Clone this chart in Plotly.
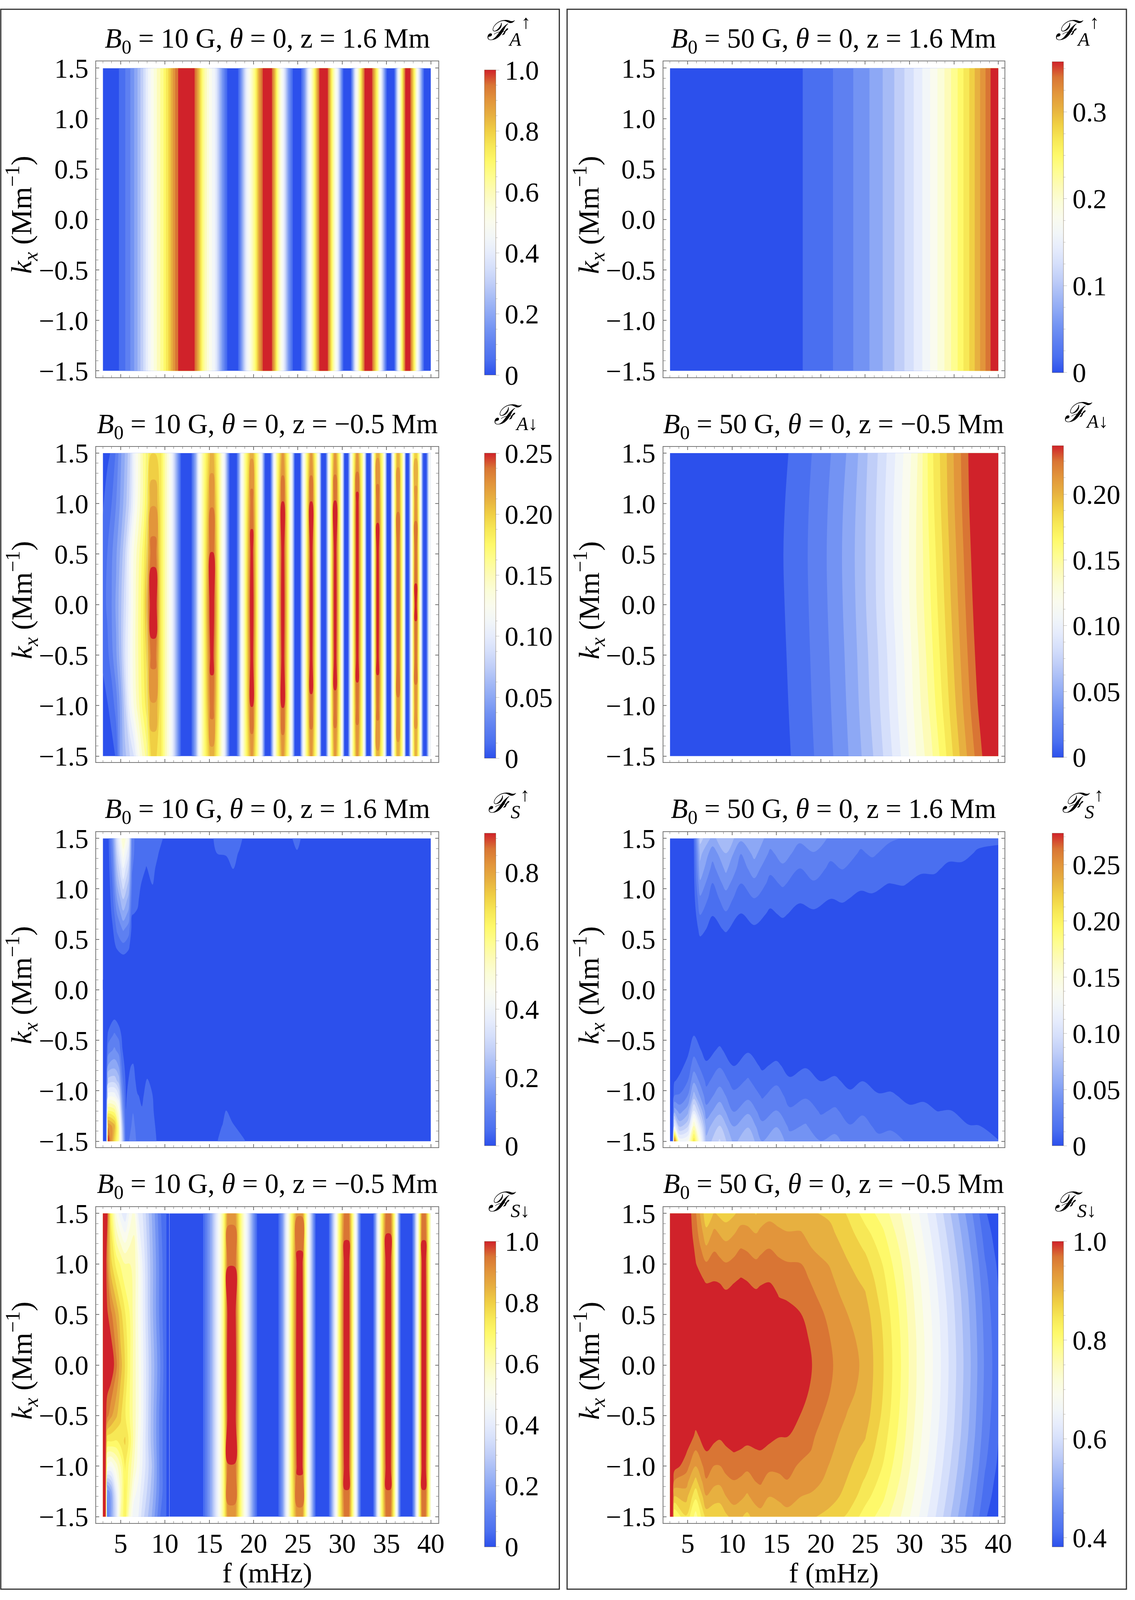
import numpy as np
import plotly.graph_objects as go

W, H = 2905, 4409

# ---------- panel A-up, B0 = 10 G (no kx dependence) ----------
A10U_F = [3,4.7,5.6,6.3,7,7.6,8.2,9,9.8,10.5,11,11.45,12.4,13.4,13.9,14.3,15,15.7,16.4,17,17.6,18.3,18.8,19.2,19.7,20.2,20.6,21,21.55,22.1,22.4,22.7,23.4,23.9,24.4,24.9,25.4,25.8,26.2,26.8,27.4,27.9,28.4,28.9,29.5,30.1,30.55,31,31.5,32,32.5,32.95,33.4,34,34.4,35,35.45,35.9,36.3,36.7,37.1,37.4,37.7,38.2,38.6,39.2,39.6,40]
A10U_V = [0,.04,.1,.16,.25,.34,.45,.56,.66,.78,.88,.95,1,.95,.8,.65,.52,.42,.2,.05,0,.05,.25,.42,.55,.68,.85,.95,1,.95,.82,.66,.42,.2,.05,0,.05,.2,.42,.66,.95,1,.95,.66,.42,.05,0,.05,.42,.66,.95,1,.95,.66,.42,.05,0,.05,.42,.66,.95,1,.95,.66,.42,.05,0,.02]

# ---------- panel A-up, B0 = 50 G (no kx dependence, thousandths) ----------
A50U_F = [3,17.96,21.37,23.65,25.48,26.97,28.28,29.42,30.47,31.43,32.31,33.14,33.93,34.67,35.42,36.07,36.73,37.34,37.95,38.56,39.13,40]
A50U_V = [0,17.05,34.1,51.1,68.2,85.2,102.3,119.3,136.4,153.4,170.5,187.5,204.6,221.6,238.7,255.7,272.8,289.8,306.9,323.9,341,367]

# ---------- panel A-down, B0 = 10 G ----------
KX7 = [1.5,1,.5,0,-.5,-1,-1.5]
A10D_LF = [3,3.5,4,4.5,5,5.5,6,6.5,7,7.5,8]
A10D_L = [
 [.008,.011,.015,.018,.014,.008,.004],
 [.01,.016,.024,.026,.02,.011,.006],
 [.013,.024,.034,.036,.032,.016,.008],
 [.026,.036,.046,.05,.046,.03,.013],
 [.045,.05,.062,.068,.066,.052,.052],
 [.06,.066,.082,.09,.094,.08,.068],
 [.078,.085,.11,.112,.115,.11,.082],
 [.112,.113,.133,.135,.137,.132,.095],
 [.132,.135,.15,.155,.155,.15,.122],
 [.155,.155,.17,.175,.175,.17,.145],
 [.172,.18,.195,.21,.195,.185,.162]]
A10D_PEAKS = [
 [.190,.213,.233,.252,.231,.213,.192],
 [.207,.225,.239,.252,.242,.232,.210],
 [.212,.232,.244,.252,.246,.239,.216],
 [.215,.240,.247,.252,.247,.240,.216],
 [.215,.240,.246,.250,.245,.236,.215],
 [.215,.241,.246,.249,.245,.235,.215],
 [.215,.245,.247,.248,.244,.233,.215],
 [.212,.235,.243,.246,.242,.232,.212],
 [.210,.225,.232,.236,.232,.225,.210],
 [.200,.222,.234,.241,.232,.222,.205]]
A10D_RF = [8.45,8.95,9.5,10,10.8,11.2,11.8,13,13.5,13.8,14.3,15.15,15.45,16.2,16.7,17,17.3,18.1,18.4,18.6,19,19.7,19.9,20.5,20.9,21.1,21.3,21.9,22.1,22.3,22.6,23.2,23.4,24,24.3,24.5,24.65,25.25,25.4,25.6,25.9,26.4,26.6,27.1,27.4,27.55,27.65,28.15,28.3,28.45,28.7,29.1,29.3,29.8,30,30.15,30.25,30.65,30.8,30.95,31.2,31.6,31.8,32.3,32.5,32.65,32.75,33.15,33.3,33.4,33.6,33.9,34.1,34.6,34.8,34.95,35.05,35.45,35.55,35.7,35.9,36.2,36.4,36.8,37,37.1,37.2,37.5,37.65,37.75,37.95,38.2,38.4,38.7,38.9,39,39.15,39.5,39.65,39.8,40]
A10D_RV = [-1,-1,.185,.155,.11,.07,.011,.011,.06,.11,.155,-2,-2,.155,.11,.06,.011,.011,.06,.11,.155,-3,-3,.155,.11,.06,.011,.011,.06,.11,.155,-4,-4,.155,.11,.06,.011,.011,.06,.11,.155,-5,-5,.155,.11,.06,.011,.011,.06,.11,.155,-6,-6,.155,.11,.06,.011,.011,.06,.11,.155,-7,-7,.155,.11,.06,.011,.011,.06,.11,.155,-8,-8,.155,.11,.06,.011,.011,.06,.11,.155,-9,-9,.155,.11,.06,.011,.011,.06,.11,.155,-10,-10,.155,.11,.06,.011,.011,.06,.11,.12]

# ---------- panel A-down, B0 = 50 G (thousandths) ----------
A50D_F = [3,15.8,18.53,20.67,22.38,23.82,25.09,26.23,27.23,28.2,29.12,29.99,30.78,31.61,32.4,33.14,33.93,34.67,35.46,36.29,37.12,38,39,40]
A50D = [
 [0,0,0,0,0,0,0],
 [9,10.6,11.3,10.8,9.9,9,7.9],
 [20.3,21.9,22.6,22.1,21.2,20.3,19.1],
 [30.9,33,33.9,33.3,32.1,30.9,29.5],
 [41.5,44,45.1,44.4,42.9,41.5,39.7],
 [52.2,55.2,56.4,55.6,53.9,52.2,50.2],
 [65.9,67.7,68.2,67.7,65.4,63.6,60.3],
 [76.9,79,79.5,79,76.4,74.3,70.6],
 [88,90.3,90.9,90.3,87.4,85.1,81.1],
 [99.2,101.6,102.2,101.6,98.6,96.2,92],
 [110.4,112.9,113.5,112.9,109.7,107.2,102.7],
 [121.4,124.1,124.8,124.1,120.7,118,113.3],
 [132.6,135.4,136.1,135.4,131.9,129.1,124.2],
 [149.5,149.5,148.1,146.7,143.2,139.7,134.1],
 [165.3,163.8,160.9,158,154.4,150,143.5],
 [176.7,175.2,172.2,169.3,165.6,161.2,154.6],
 [187.9,186.5,183.5,180.6,176.9,172.5,165.9],
 [199.2,197.7,194.8,191.9,188.3,183.9,177.3],
 [210.1,208.7,205.9,203.1,199.6,195.4,189.1],
 [221.2,219.8,217.1,214.4,211,206.9,200.8],
 [232.7,231.3,228.5,225.7,222.2,218,211.7],
 [245.5,244,241,238,234.3,229.8,223],
 [259.5,258,255,252,248.3,243.8,237],
 [273.5,272,269,266,262.3,257.8,251]]

# ---------- panel S-up, B0 = 10 G (thousandths) ----------
KX_TOP = [1.5,1.35,1.2,1.05,.9,.75,.6,.45,.3,0]
KX_BOT = [.1,-.3,-.45,-.6,-.75,-.9,-1.05,-1.2,-1.35,-1.5]
S10U_TF = [3,3.6,4.1,4.6,5.3,5.9,6.3,6.9,7.9,8.6,9.2,9.7,10.3,15,15.5,15.9,16.9,17.7,18.4,18.7,19.2,24,24.4,24.9,25.3,25.8,40]
S10U_T = [
 [0,0,0,0,0,0,0,0,0,0],
 [30,25,20,15,10,5,0,0,0,0],
 [150,130,110,90,75,58,38,22,0,0],
 [340,300,260,220,175,130,95,60,10,0],
 [530,458,390,330,262,205,137,82,25,0],
 [420,360,300,250,205,160,110,60,15,0],
 [100,100,90,80,60,45,25,10,0,0],
 [70,65,62,57,50,40,15,0,0,0],
 [60,52,42,25,10,0,0,0,0,0],
 [60,55,52,46,25,0,0,0,0,0],
 [52,46,35,15,0,0,0,0,0,0],
 [46,30,15,0,0,0,0,0,0,0],
 [25,10,0,0,0,0,0,0,0,0],
 [0,0,0,0,0,0,0,0,0,0],
 [46,10,0,0,0,0,0,0,0,0],
 [60,44,5,0,0,0,0,0,0,0],
 [65,47,25,0,0,0,0,0,0,0],
 [65,55,44,20,0,0,0,0,0,0],
 [55,40,15,0,0,0,0,0,0,0],
 [46,25,0,0,0,0,0,0,0,0],
 [10,0,0,0,0,0,0,0,0,0],
 [0,0,0,0,0,0,0,0,0,0],
 [46,20,0,0,0,0,0,0,0,0],
 [55,40,5,0,0,0,0,0,0,0],
 [46,20,0,0,0,0,0,0,0,0],
 [0,0,0,0,0,0,0,0,0,0],
 [0,0,0,0,0,0,0,0,0,0]]
S10U_BF = [3,3.35,3.6,4.3,4.8,5.2,5.6,6.4,6.9,7.4,8,8.6,9,9.5,10,15.5,16,16.5,16.9,17.6,19,19.5,20,40]
S10U_B = [
 [0,0,0,0,0,0,0,0,0,0],
 [0,0,0,0,0,0,0,0,0,0],
 [0,0,60,110,180,280,420,620,820,910],
 [0,46,95,140,200,290,420,590,760,700],
 [0,25,75,115,170,240,350,480,560,560],
 [0,0,30,46,70,100,140,190,260,300],
 [0,0,0,15,25,35,40,44,46,55],
 [0,0,0,0,50,60,70,85,100,130],
 [0,0,0,0,15,30,46,55,70,70],
 [0,0,0,0,0,15,38,46,60,65],
 [0,0,0,0,0,50,55,58,65,70],
 [0,0,0,0,0,25,45,50,55,58],
 [0,0,0,0,0,0,20,30,40,46],
 [0,0,0,0,0,0,0,8,14,20],
 [0,0,0,0,0,0,0,0,0,0],
 [0,0,0,0,0,0,0,0,0,20],
 [0,0,0,0,0,0,0,0,30,46],
 [0,0,0,0,0,0,0,20,46,55],
 [0,0,0,0,0,0,0,46,60,65],
 [0,0,0,0,0,0,0,25,50,60],
 [0,0,0,0,0,0,0,0,20,46],
 [0,0,0,0,0,0,0,0,0,20],
 [0,0,0,0,0,0,0,0,0,0],
 [0,0,0,0,0,0,0,0,0,0]]

# ---------- panel S-up, B0 = 50 G (thousandths) ----------
S50U_TF = [3,5.6,6.4,7.8,9.3,11,12.5,14.3,15.7,17.6,19.2,21.1,22.4,24.5,25.8,27.7,29.3,31.3,32.8,34.4,35.9,37.7,40]
S50U_T = [
 [0,0,0,0,0,0,0,0,0,0],
 [5,5,5,5,5,3,0,0,0,0],
 [85,70,62,50,37,27,18,8,0,0],
 [62,45,35,26,20,14,8,3,0,0],
 [78,66,56,45,33,25,15,6,0,0],
 [56,40,33,26,19,13,6,1,0,0],
 [64,57,46,36,26,19,11,2,0,0],
 [46,37,29,23,17,11,5,0,0,0],
 [52,45,37,28,21,15,8,1,0,0],
 [42,35,26,21,15,9,3,0,0,0],
 [46,39,32,25,18,11,4,0,0,0],
 [38,29,24,19,13,7,2,0,0,0],
 [40,33,27,21,15,8,2,0,0,0],
 [30,25,21,16,10,4,0,0,0,0],
 [33,28,22,17,11,5,0,0,0,0],
 [28,23,18,13,7,2,0,0,0,0],
 [26,22,18,14,8,2,0,0,0,0],
 [24,21,15,10,5,0,0,0,0,0],
 [23,20,15,10,4,0,0,0,0,0],
 [20,16,11,6,1,0,0,0,0,0],
 [19,16,11,5,0,0,0,0,0,0],
 [16,12,7,2,0,0,0,0,0,0],
 [15,11,6,0,0,0,0,0,0,0]]
S50U_BF = [3,3.3,3.5,4.1,5,5.7,7.1,8.6,10.2,11.8,13.4,15,16.5,18.3,20,21.6,23.3,24.7,26.5,27.9,30,31.6,33.2,34.6,36.7,37.7,40]
S50U_B = [
 [0,0,0,0,0,0,0,0,0,0],
 [0,0,0,0,0,0,0,0,0,0],
 [0,0,0,0,5,12,27,60,120,270],
 [0,0,0,0,8,17,28,48,75,130],
 [0,0,0,10,18,26,40,60,90,135],
 [0,0,13,22,33,50,72,110,160,210],
 [0,0,0,7,16,23,32,45,60,70],
 [0,0,6,16,25,35,47,62,80,95],
 [0,0,0,4,13,21,30,39,52,62],
 [0,0,2,12,20,28,36,50,65,78],
 [0,0,0,0,11,18,25,33,43,53],
 [0,0,0,7,16,24,32,40,52,66],
 [0,0,0,0,8,15,22,28,37,45],
 [0,0,0,0,12,19,25,33,41,50],
 [0,0,0,0,4,13,20,25,31,40],
 [0,0,0,0,7,16,22,28,35,44],
 [0,0,0,0,0,8,17,22,27,33],
 [0,0,0,0,0,13,20,25,30,36],
 [0,0,0,0,0,5,15,20,24,29],
 [0,0,0,0,0,6,16,21,25,30],
 [0,0,0,0,0,0,8,17,21,25],
 [0,0,0,0,0,0,10,18,22,25],
 [0,0,0,0,0,0,2,13,18,22],
 [0,0,0,0,0,0,3,14,19,22],
 [0,0,0,0,0,0,0,5,14,19],
 [0,0,0,0,0,0,0,6,14,18],
 [0,0,0,0,0,0,0,1,6,14]]

# ---------- panel S-down, B0 = 10 G ----------
KX9 = [1.5,1,.5,0,-.5,-.75,-1,-1.25,-1.5]
S10D_LF = [3,3.3,3.5,3.9,4.5,5,5.5,6,6.5,7,7.5,8.5,9.5,10.2,10.5]
S10D_L = [
 [1,1,1,1,1,1,1,1,1],
 [1,1,1,1,.97,.98,.97,.97,.97],
 [.97,.9,.96,1,.92,.72,.5,.15,.1],
 [.7,.78,.92,1,.87,.72,.48,.22,.2],
 [.52,.7,.85,.92,.82,.71,.55,.42,.38],
 [.44,.66,.78,.83,.77,.74,.62,.58,.62],
 [.39,.62,.72,.76,.72,.77,.72,.72,.72],
 [.48,.62,.67,.68,.67,.7,.65,.62,.55],
 [.55,.6,.6,.6,.6,.6,.57,.5,.44],
 [.42,.52,.52,.53,.53,.51,.5,.46,.43],
 [.38,.42,.43,.44,.44,.43,.42,.39,.35],
 [.24,.26,.26,.28,.27,.27,.29,.27,.24],
 [.1,.12,.12,.14,.12,.12,.12,.12,.09],
 [.045,.045,.045,.045,.045,.045,.045,.045,.045],
 [.03,.03,.03,.03,.03,.03,.03,.03,.03]]
S10D_PEAKS = [
 [.89,.95,.99,1.02,.995,.95,.89],
 [.90,.97,.99,1.0,.99,.965,.89],
 [.92,.98,1.0,1.0,1.0,.98,.92],
 [.93,.985,1.0,1.0,1.0,.98,.92],
 [.92,.98,1.0,1.0,1.0,.98,.92]]
S10D_RF = [10.5,14.3,15.2,15.9,16.6,17.1,17.9,18.6,19.3,19.9,20.4,22.8,23.3,23.7,24.2,24.9,25.5,25.9,26.3,26.7,27,28.5,28.8,29.2,29.6,30.25,30.75,31.2,31.6,31.85,32.1,33.5,33.75,34,34.4,34.95,35.45,35.9,36.2,36.4,36.6,37.9,38.15,38.4,38.7,39,39.4,39.8,40]
S10D_RV = [.03,.045,.22,.42,.65,-1,-1,.65,.42,.2,.045,.045,.2,.42,.65,-2,-2,.65,.42,.2,.045,.045,.2,.42,.65,-3,-3,.65,.42,.2,.045,.045,.2,.42,.65,-4,-4,.65,.42,.2,.045,.045,.2,.42,.65,-5,-5,.65,.55]

# ---------- panel S-down, B0 = 50 G (thousandths) ----------
KX17 = [1.5,1.3,1.15,1,.85,.7,.5,.25,0,-.25,-.5,-.7,-.85,-1,-1.15,-1.3,-1.5]
S50D_F = [3,3.3,3.5,4.8,5.9,7.1,8,8.6,9.3,10.2,11,11.7,12.7,13.2,14.2,15.3,16.2,17.7,19,21,23,25,27,29,31,33,35,37,38.5,40]
S50D = [
 [1000]*17,
 [1000]*17,
 [980,990,1000,1000,1000,1000,1000,1000,1000,1000,1000,1000,995,985,938,880,790],
 [1000,1000,1000,1000,1000,1000,1000,1000,1000,1000,1000,995,975,955,925,895,850],
 [945,955,965,972,980,990,1000,1000,1000,1000,985,965,940,912,872,830,780],
 [860,892,917,945,967,980,990,1000,1000,1000,995,985,972,955,938,910,865],
 [885,920,938,955,969,980,990,1000,1000,1000,992,980,960,940,920,895,860],
 [875,910,930,950,967,980,990,1000,1000,1000,990,975,958,940,918,893,860],
 [868,900,923,943,960,975,988,1000,1000,1000,992,980,966,950,933,911,876],
 [878,910,930,950,967,980,990,1000,1000,1000,992,983,972,955,940,925,893],
 [893,925,942,958,972,982,990,1000,1000,1000,992,982,969,952,936,918,885],
 [895,922,938,955,969,980,990,1000,1000,1000,992,980,965,948,928,907,875],
 [880,912,928,947,962,975,988,1000,1000,1000,992,982,969,955,942,925,895],
 [892,920,935,950,965,978,988,1000,1000,1000,992,983,970,957,945,928,900],
 [903,925,942,955,968,980,990,1000,1000,1000,990,980,962,948,930,912,885],
 [893,920,933,947,958,969,980,995,1000,995,980,972,958,947,935,918,893],
 [885,915,930,943,955,966,980,995,1000,995,982,972,958,950,940,925,900],
 [890,915,930,942,950,958,972,985,990,985,970,957,950,937,925,912,890],
 [885,900,912,925,938,945,955,965,971,965,955,945,940,930,920,908,885],
 [877,890,900,910,918,926,935,942,945,942,932,923,917,910,905,892,874],
 [850,865,875,885,892,900,912,920,925,920,910,900,893,888,880,874,848],
 [810,834,849,863,875,884,895,902,905,902,895,884,875,863,849,834,810],
 [780,799,811,822,831,838,847,853,855,853,847,838,831,822,811,799,780],
 [735,750,760,769,776,782,788,793,795,793,788,782,776,769,760,750,735],
 [678,690,698,706,712,717,722,727,728,727,722,717,712,706,698,690,678],
 [615,627,635,642,648,653,659,663,664,663,659,653,648,642,635,627,615],
 [545,558,566,574,580,586,591,595,597,595,591,586,580,574,566,558,545],
 [473,486,494,502,508,514,519,523,525,523,519,514,508,502,494,486,473],
 [415,427,435,443,449,454,459,463,465,463,459,454,449,443,435,427,415],
 [385,394,399,405,409,412,416,419,420,419,416,412,409,405,399,394,385]]

# ---------- text ----------
T10U = "<i>B</i><sub>0</sub> = 10 G, <i>θ</i> = 0, z = 1.6 Mm"
T10D = "<i>B</i><sub>0</sub> = 10 G, <i>θ</i> = 0, z = −0.5 Mm"
T50U = "<i>B</i><sub>0</sub> = 50 G, <i>θ</i> = 0, z = 1.6 Mm"
T50D = "<i>B</i><sub>0</sub> = 50 G, <i>θ</i> = 0, z = −0.5 Mm"
L_AU = "<i>ℱ<sub>A</sub></i><sup>↑</sup>"
L_AD = "<i>ℱ<sub>A</sub></i><sub>↓</sub>"
L_SU = "<i>ℱ<sub>S</sub></i><sup>↑</sup>"
L_SD = "<i>ℱ<sub>S</sub></i><sub>↓</sub>"
YTITLE = "<i>k<sub>x</sub></i> (Mm<sup>−1</sup>)"
XTITLE = "f (mHz)"

# the 21 contour band colours of the reference, lowest to highest
BANDS = ["#2c50ec","#4a6ff0","#5e80f1","#7393f3","#8da8f5","#a6bbf6","#c0cef8","#d5dffb","#e6ecfc","#f2f6f8","#fafbee",
         "#fbfdd8","#fdfbb8","#fefd90","#fef96a","#f7e856","#f0cf44","#e7b040","#e2953b","#d97534","#d0222a"]
COLORS = [[i/20, c] for i, c in enumerate(BANDS)]
FONT = "Liberation Serif"
FS = 70

# ---------- geometry (pixels) ----------
COLS = [dict(frame=(248,1129), data=(265,1110), cb=1248),
        dict(frame=(1709,2588), data=(1726,2572), cb=2711)]
ROWS = [dict(frame=(148,1028), data=(167,1010.5)),
        dict(frame=(1222,2101), data=(1239.5,2084)),
        dict(frame=(2295,3174), data=(2313,3157)),
        dict(frame=(3340,4221), data=(3358,4203))]

fig = go.Figure()
shapes = []

def stripes(base, peaks, n=7):
    out = []
    for v in base:
        out.append(list(peaks[-v-1]) if v < 0 else [v]*n)
    return out

def add(f, kx, cols, idx, zmin, zmax, scale=1.0):
    z = np.array(cols, dtype=float).T / scale
    kx = np.array(kx, dtype=float)
    order = np.argsort(kx)
    step = (zmax - zmin) / 21
    fig.add_trace(go.Contour(
        x=f, y=kx[order].tolist(), z=z[order].tolist(),
        xaxis=f"x{idx}", yaxis=f"y{idx}",
        zmin=zmin, zmax=zmax, autocontour=False,
        contours=dict(coloring="fill", showlines=False, start=zmin+step, end=zmax-step+step/1000, size=step),
        line=dict(width=0), colorscale=COLORS, hoverinfo="skip", showscale=False))

def colorbar(idx, c, top, bot, zmin, zmax, major, labels, minor):
    # a small heatmap hidden under the contour fill carries the smooth colour bar
    cb = dict(x=COLS[c]["cb"]/W, xanchor="left", xpad=0, y=1-bot/H, yanchor="bottom", ypad=0,
              lenmode="fraction", len=(bot-top)/H, thicknessmode="pixels", thickness=29,
              outlinewidth=1, outlinecolor="rgba(90,60,20,.55)", tickmode="array", tickvals=major, ticktext=labels,
              ticks="outside", ticklen=9, tickwidth=1, tickcolor="#bbbbbb",
              tickfont=dict(family=FONT, size=FS, color="black"), borderwidth=0)
    fig.add_trace(go.Heatmap(x=[20,21], y=[0,.1], z=[[zmin,zmax],[zmin,zmax]], zmin=zmin, zmax=zmax,
                             xaxis=f"x{idx}", yaxis=f"y{idx}", colorscale=COLORS, hoverinfo="skip",
                             showscale=True, colorbar=cb))
    right = COLS[c]["cb"] + 29
    for m in minor:
        y = bot - (m-zmin)/(zmax-zmin)*(bot-top)
        shapes.append(dict(type="line", xref="paper", yref="paper", x0=right/W, x1=(right+5)/W,
                           y0=1-y/H, y1=1-y/H, line=dict(color="#bbbbbb", width=1)))

MIN_A = [.05,.1,.15,.25,.3,.35,.45,.5,.55,.65,.7,.75,.85,.9,.95]
colorbar(1,0,172,1022,0,1,[0,.2,.4,.6,.8,1],["0","0.2","0.4","0.6","0.8","1.0"],MIN_A)
add(A10U_F, [1.5,-1.5], [[v,v] for v in A10U_V], 1, 0, 1)
colorbar(2,0,1239.5,2090,0,.25,[0,.05,.1,.15,.2,.25],["0","0.05","0.10","0.15","0.20","0.25"],
         [.0125,.0375,.0625,.0875,.1125,.1375,.1625,.1875,.2125,.2375])
add(A10D_LF, KX7, A10D_L, 2, 0, .25)
add([8]+A10D_RF, KX7, [A10D_L[-1]]+stripes(A10D_RV, A10D_PEAKS), 2, 0, .25)
colorbar(3,0,2299,3169.5,0,.915,[0,.2,.4,.6,.8],["0","0.2","0.4","0.6","0.8"],MIN_A[:-1])
add(S10U_TF, KX_TOP, S10U_T, 3, 0, .915, 1000)
add(S10U_BF, KX_BOT, S10U_B, 3, 0, .915, 1000)
colorbar(4,0,3436,4287,0,1,[0,.2,.4,.6,.8,1],["0","0.2","0.4","0.6","0.8","1.0"],MIN_A)
add(S10D_LF, KX9, S10D_L, 4, 0, 1)
add(S10D_RF, KX7, stripes(S10D_RV, S10D_PEAKS), 4, 0, 1)

colorbar(5,1,149,1015,0,.358,[0,.1,.2,.3],["0","0.1","0.2","0.3"],[.025,.05,.075,.125,.15,.175,.225,.25,.275,.325,.35])
add(A50U_F, [1.5,-1.5], [[v,v] for v in A50U_V], 5, 0, .358, 1000)
colorbar(6,1,1218,2087,0,.237,[0,.05,.1,.15,.2],["0","0.05","0.10","0.15","0.20"],
         [.0125,.025,.0375,.0625,.075,.0875,.1125,.125,.1375,.1625,.175,.1875,.2125,.225])
add(A50D_F, KX7, A50D, 6, 0, .237, 1000)
colorbar(7,1,2299,3169.5,0,.278,[0,.05,.1,.15,.2,.25],["0","0.05","0.10","0.15","0.20","0.25"],
         [.0125,.025,.0375,.0625,.075,.0875,.1125,.125,.1375,.1625,.175,.1875,.2125,.225,.2375,.2625,.275])
add(S50U_TF, KX_TOP, S50U_T, 7, 0, .278, 1000)
add(S50U_BF, KX_BOT, S50U_B, 7, 0, .278, 1000)
colorbar(8,1,3436,4287,.3815,1,[.4,.6,.8,1],["0.4","0.6","0.8","1.0"],[.45,.5,.55,.65,.7,.75,.85,.9,.95])
add(S50D_F, KX17, S50D, 8, .3815, 1, 1000)

layout = dict(width=W, height=H, autosize=False, margin=dict(l=0,r=0,t=0,b=0,pad=0),
              paper_bgcolor="white", plot_bgcolor="white", showlegend=False)

FRAME = "#777777"
for c in range(2):
    for r in range(4):
        idx = c*4 + r + 1
        C, R = COLS[c], ROWS[r]
        fx0, fx1 = C["frame"]; dx0, dx1 = C["data"]
        fy0, fy1 = R["frame"]; dy0, dy1 = R["data"]
        sx = 37/(dx1-dx0); sy = 3/(dy1-dy0)
        layout[f"xaxis{idx}"] = dict(
            domain=[fx0/W, fx1/W], anchor=f"y{idx}",
            range=[3-(dx0-fx0)*sx, 40+(fx1-dx1)*sx],
            tickmode="linear", tick0=0, dtick=5, ticks="inside", ticklen=8, tickwidth=2, tickcolor=FRAME,
            minor=dict(ticks="inside", dtick=1, tick0=0, ticklen=5, tickwidth=1, tickcolor=FRAME),
            showticklabels=(r == 3), tickfont=dict(family=FONT, size=FS, color="black"),
            ticklabelstandoff=-10,
            showline=True, linecolor=FRAME, linewidth=2, mirror="ticks", showgrid=False, zeroline=False)
        layout[f"yaxis{idx}"] = dict(
            domain=[1-fy1/H, 1-fy0/H], anchor=f"x{idx}",
            range=[-1.5-(fy1-dy1)*sy, 1.5+(dy0-fy0)*sy],
            tickmode="linear", tick0=0, dtick=.5, tickformat=".1f", ticks="inside", ticklen=8, tickwidth=2, tickcolor=FRAME,
            minor=dict(ticks="inside", dtick=.1, tick0=0, ticklen=6, tickwidth=1, tickcolor=FRAME),
            showticklabels=True, tickfont=dict(family=FONT, size=FS, color="black"),
            ticklabelstandoff=4,
            showline=True, linecolor=FRAME, linewidth=2, mirror="ticks", showgrid=False, zeroline=False)

ann = []
def text(s, x, y, size=FS, angle=0):
    ann.append(dict(text=s, x=x/W, y=1-y/H, xref="paper", yref="paper", showarrow=False,
                    xanchor="center", yanchor="middle", textangle=angle,
                    font=dict(family=FONT, size=size, color="black")))

title_y = [90, 1164, 2236, 3281]
titles = [[T10U,T10D,T10U,T10D],[T50U,T50D,T50U,T50D]]
title_x = [689, 2148]
for c in range(2):
    for r in range(4):
        text(titles[c][r], title_x[c], title_y[r], 71)
        text(YTITLE, [56, 1517][c], (ROWS[r]["frame"][0]+ROWS[r]["frame"][1])/2 - 12, 74, angle=-90)
    text(XTITLE, [688, 2148][c], 4360, 72)

text(L_AU, 1311, 63, 70); text(L_AD, 1329, 1139, 70); text(L_SU, 1311, 2215, 70); text(L_SD, 1311, 3333, 70)
text(L_AU, 2775, 63, 70); text(L_AD, 2798, 1133, 70); text(L_SU, 2790, 2215, 70); text(L_SD, 2771, 3333, 70)
layout["annotations"] = ann

layout["shapes"] = shapes + [
    dict(type="rect", xref="paper", yref="paper", x0=2/W, x1=1441/W, y0=1-4405/H, y1=1-3/H, line=dict(color="#333333", width=3)),
    dict(type="rect", xref="paper", yref="paper", x0=1461/W, x1=2902/W, y0=1-4405/H, y1=1-3/H, line=dict(color="#333333", width=3)),
]
fig.update_layout(**layout)
# If the browser's viewport is shorter than the requested window, fit the figure's height to it.
FIT = ("document.body.style.margin='0';"
       "var gd=document.querySelector('.plotly-graph-div');"
       f"if(window.innerHeight<{H}){{Plotly.relayout(gd,{{height:window.innerHeight}});}}")
fig.write_html("out.html", config={"displayModeBar": False}, post_script=FIT)
